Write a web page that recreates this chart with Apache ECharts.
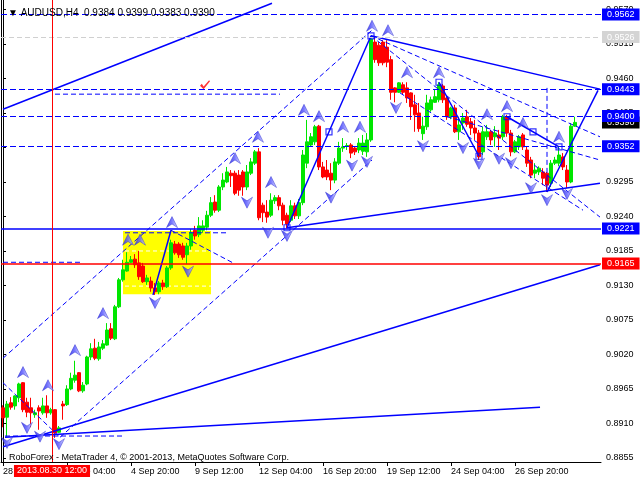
<!DOCTYPE html>
<html><head><meta charset="utf-8">
<script src="https://cdn.jsdelivr.net/npm/echarts@6/dist/echarts.min.js"></script>
<style>html,body{margin:0;padding:0;background:#fff}#c{width:640px;height:480px}</style>
</head><body><div id="c"></div>
<script>
// ---- data ----
// candles: [open, close, low, high]
const candles = [
[0.8935,0.8919,0.8904,0.8939],[0.8920,0.8941,0.8889,0.8946],[0.8943,0.8936,0.8932,0.8952],[0.8938,0.8954,0.8932,0.8955],
[0.8951,0.8973,0.8944,0.8975],[0.8975,0.8932,0.8928,0.8976],[0.8944,0.8928,0.8920,0.8951],[0.8935,0.8927,0.8904,0.8951],
[0.8924,0.8927,0.8919,0.8932],[0.8935,0.8930,0.8900,0.8939],[0.8927,0.8938,0.8924,0.8951],[0.8938,0.8927,0.8919,0.8955],
[0.8927,0.8932,0.8924,0.8935],[0.8932,0.8895,0.8887,0.8933],[0.8896,0.8903,0.8895,0.8906],[0.8941,0.8938,0.8916,0.8946],
[0.8940,0.8965,0.8938,0.8971],[0.8965,0.8982,0.8963,0.8991],[0.8979,0.8987,0.8975,0.9010],[0.8991,0.8962,0.8960,0.8992],
[0.8962,0.8971,0.8959,0.8976],[0.8973,0.9016,0.8971,0.9018],[0.9016,0.9029,0.9011,0.9038],[0.9030,0.9014,0.9011,0.9045],
[0.9013,0.9032,0.9010,0.9040],[0.9030,0.9037,0.9027,0.9043],[0.9035,0.9059,0.9034,0.9070],[0.9061,0.9046,0.9043,0.9070],
[0.9045,0.9096,0.9043,0.9099],[0.9096,0.9139,0.9094,0.9142],[0.9139,0.9155,0.9136,0.9171],[0.9153,0.9167,0.9152,0.9183],
[0.9167,0.9171,0.9166,0.9177],[0.9172,0.9163,0.9158,0.9180],[0.9166,0.9144,0.9139,0.9185],[0.9161,0.9136,0.9134,0.9166],
[0.9136,0.9142,0.9131,0.9147],[0.9137,0.9126,0.9120,0.9144],[0.9126,0.9120,0.9115,0.9134],[0.9120,0.9134,0.9116,0.9137],
[0.9134,0.9128,0.9123,0.9139],[0.9128,0.9158,0.9126,0.9161],[0.9158,0.9198,0.9155,0.9203],[0.9196,0.9182,0.9179,0.9201],
[0.9196,0.9179,0.9174,0.9199],[0.9193,0.9175,0.9171,0.9198],[0.9179,0.9193,0.9164,0.9198],[0.9193,0.9214,0.9187,0.9220],
[0.9218,0.9209,0.9203,0.9225],[0.9211,0.9225,0.9207,0.9239],[0.9218,0.9225,0.9214,0.9234],[0.9223,0.9242,0.9218,0.9249],
[0.9242,0.9262,0.9239,0.9271],[0.9263,0.9250,0.9246,0.9274],[0.9250,0.9287,0.9247,0.9290],[0.9287,0.9298,0.9282,0.9309],
[0.9295,0.9311,0.9293,0.9319],[0.9309,0.9305,0.9287,0.9314],[0.9309,0.9277,0.9274,0.9313],[0.9306,0.9282,0.9273,0.9314],
[0.9311,0.9287,0.9273,0.9314],[0.9287,0.9311,0.9282,0.9322],[0.9309,0.9327,0.9306,0.9333],[0.9325,0.9343,0.9322,0.9346],
[0.9343,0.9238,0.9234,0.9349],[0.9258,0.9246,0.9231,0.9262],[0.9247,0.9239,0.9230,0.9266],[0.9242,0.9266,0.9239,0.9277],
[0.9265,0.9270,0.9260,0.9274],[0.9270,0.9257,0.9250,0.9274],[0.9258,0.9234,0.9226,0.9262],[0.9242,0.9228,0.9221,0.9246],
[0.9234,0.9257,0.9231,0.9266],[0.9257,0.9241,0.9236,0.9262],[0.9241,0.9262,0.9236,0.9268],[0.9262,0.9338,0.9258,0.9346],
[0.9325,0.9359,0.9317,0.9394],[0.9354,0.9367,0.9351,0.9373],[0.9359,0.9383,0.9354,0.9386],[0.9384,0.9319,0.9314,0.9386],
[0.9319,0.9303,0.9301,0.9327],[0.9314,0.9303,0.9298,0.9330],[0.9309,0.9298,0.9282,0.9325],[0.9298,0.9327,0.9293,0.9333],
[0.9325,0.9349,0.9322,0.9359],[0.9349,0.9351,0.9343,0.9365],[0.9352,0.9353,0.9346,0.9357],[0.9354,0.9341,0.9333,0.9357],
[0.9349,0.9343,0.9338,0.9352],[0.9346,0.9357,0.9341,0.9365],[0.9344,0.9357,0.9338,0.9370],[0.9343,0.9362,0.9335,0.9373],
[0.9362,0.9523,0.9359,0.9528],[0.9518,0.9490,0.9485,0.9525],[0.9513,0.9485,0.9480,0.9518],[0.9518,0.9485,0.9481,0.9521],
[0.9510,0.9486,0.9478,0.9521],[0.9490,0.9438,0.9426,0.9496],[0.9445,0.9438,0.9422,0.9446],[0.9438,0.9453,0.9437,0.9454],
[0.9450,0.9438,0.9434,0.9454],[0.9445,0.9429,0.9421,0.9454],[0.9437,0.9415,0.9394,0.9438],[0.9418,0.9402,0.9375,0.9434],
[0.9405,0.9380,0.9375,0.9421],[0.9372,0.9384,0.9362,0.9399],[0.9383,0.9421,0.9378,0.9434],[0.9410,0.9426,0.9407,0.9431],
[0.9422,0.9431,0.9421,0.9442],[0.9426,0.9450,0.9422,0.9454],[0.9448,0.9426,0.9421,0.9451],[0.9429,0.9399,0.9394,0.9431],
[0.9399,0.9413,0.9395,0.9415],[0.9413,0.9375,0.9373,0.9418],[0.9375,0.9386,0.9362,0.9399],[0.9389,0.9397,0.9378,0.9405],
[0.9399,0.9387,0.9383,0.9410],[0.9391,0.9381,0.9370,0.9397],[0.9381,0.9373,0.9362,0.9394],[0.9373,0.9335,0.9330,0.9378],
[0.9343,0.9375,0.9338,0.9383],[0.9367,0.9375,0.9362,0.9386],[0.9375,0.9362,0.9354,0.9378],[0.9367,0.9373,0.9351,0.9384],
[0.9370,0.9365,0.9346,0.9378],[0.9367,0.9399,0.9362,0.9402],[0.9399,0.9373,0.9367,0.9402],[0.9373,0.9343,0.9336,0.9378],
[0.9343,0.9359,0.9341,0.9362],[0.9351,0.9367,0.9346,0.9370],[0.9370,0.9351,0.9346,0.9373],[0.9346,0.9325,0.9319,0.9351],
[0.9330,0.9306,0.9301,0.9335],[0.9309,0.9314,0.9301,0.9325],[0.9311,0.9317,0.9306,0.9320],[0.9311,0.9301,0.9290,0.9317],
[0.9309,0.9290,0.9279,0.9311],[0.9293,0.9325,0.9287,0.9330],[0.9325,0.9330,0.9322,0.9335],[0.9325,0.9338,0.9320,0.9351],
[0.9335,0.9319,0.9314,0.9341],[0.9314,0.9295,0.9285,0.9322],[0.9295,0.9384,0.9293,0.9389],[0.9384,0.9390,0.9383,0.9399]
];
const slotCount = 150;
const xTickLabels = ['28 Aug 2013','2 Sep 04:00','4 Sep 20:00','9 Sep 12:00','12 Sep 04:00','16 Sep 20:00','19 Sep 12:00','24 Sep 04:00','26 Sep 20:00'];
const yTickLabels = ['0.8855','0.8910','0.8965','0.9020','0.9075','0.9130','0.9185','0.9240','0.9295','0.9350','0.9405','0.9460','0.9515','0.9570'];
const cursorIndex = 12.25;
const cursorLabel = '2013.08.30 12:00';
const symbolName = 'AUDUSD,H4';
const bluePriceLevels = [0.9562, 0.9443, 0.9400, 0.9352];
const grayPriceLevels = [0.9526];
const supportLevel = [0.9221];
const redLevel = [0.9165];
const bidPrice = [0.9390];
const upFractals = [[5,0.8992],[11.25,0.8971],[18,0.9027],[25,0.9086],[31.25,0.9203],[34.25,0.9203],[42.25,0.9231],[58,0.9333],[63.75,0.9367],[67,0.9295],[75.25,0.9410],[79,0.9400],[85,0.9383],[89.25,0.9383],[92.25,0.9544],[96.25,0.9537],[101,0.9470],[109,0.9470],[121,0.9403],[126,0.9416],[130,0.9389],[139,0.9367]];
const downFractals = [[1,0.8879],[6,0.8903],[9.25,0.8889],[14,0.8877],[38,0.9102],[46.25,0.9152],[61,0.9262],[66.25,0.9214],[71,0.9209],[82,0.9270],[87.25,0.9321],[91,0.9327],[98.25,0.9413],[105,0.9352],[115,0.9349],[119,0.9324],[124,0.9332],[127,0.9325],[132,0.9285],[136,0.9266],[141,0.9276]];
const zigzagPoints = [[71,0.9222],[81.5,0.9375],[92,0.9528],[109,0.9454],[119,0.9336],[126,0.9399],[132.5,0.9375],[139,0.9351]];
const checkPoint = [[50.5,0.9450]];
const solidSegments = [
 [[0,0.9411],[67.25,0.9580]],
 [[0,0.8873],[149.25,0.9163]],
 [[0.5,0.8888],[134.25,0.8936]],
 [[71,0.9222],[149.25,0.9293]],
 [[92,0.9528],[149.25,0.9443]],
 [[71,0.9222],[92,0.9528]],
 [[109,0.9454],[119,0.9336]],
 [[126,0.9399],[139,0.9351]],
 [[136,0.9279],[148.75,0.9441]],
 [[37.5,0.9115],[42,0.9218]]
];
const dashedSegments = [
 [[0,0.9014],[92.25,0.9537]],
 [[14.25,0.8888],[92.25,0.9330]],
 [[92,0.9528],[149.25,0.9367]],
 [[92,0.9528],[149.25,0.9239]],
 [[99.25,0.9437],[145,0.9250]],
 [[111,0.9399],[149.25,0.9330]],
 [[42,0.9218],[57.5,0.9166]],
 [[13,0.9435],[69.25,0.9435]],
 [[0,0.9167],[20,0.9167]],
 [[0.5,0.8890],[30,0.8890]],
 [[30.5,0.9214],[56.25,0.9214]],
 [[136,0.9445],[136,0.9279]],
 [[0,0.8975],[14.25,0.8888]]
];
const boxCorners = [[30,0.9217],[52,0.9116]];
const boxInnerLevels = [0.9185, 0.9129];

// ---- chart ----
const FONT = '"Liberation Sans", Arial, sans-serif';
const yMin = 0.88486, yMax = 0.95851;
const cats = Array.from({length: slotCount}, (_, i) => String(i));
const last = candles[candles.length - 1];
const chart = echarts.init(document.getElementById('c'), null, {renderer: 'canvas'});
const BLUE = '#0000ff';

function segSeries(seg, style, z) {
  return {type: 'line', xAxisIndex: 1, yAxisIndex: 0, data: seg, symbol: 'none', silent: true,
    lineStyle: style, z: z, animation: false};
}
const series = [];
// yellow box (background)
series.push({type: 'line', xAxisIndex: 1, yAxisIndex: 0, data: [], symbol: 'none', z: 0, silent: true,
  markArea: {silent: true, itemStyle: {color: '#ffff00', opacity: 1},
    data: [[{xAxis: boxCorners[0][0], yAxis: boxCorners[0][1]}, {xAxis: boxCorners[1][0], yAxis: boxCorners[1][1]}]]}});
boxInnerLevels.forEach(v => series.push(segSeries([[boxCorners[0][0] + 0.5, v], [boxCorners[1][0], v]], {color: '#ffffff', width: 1, type: [4, 3]}, 1)));
// candles
series.push({type: 'candlestick', xAxisIndex: 0, yAxisIndex: 0, data: candles, barWidth: 3, z: 3,
  itemStyle: {color: '#00e600', color0: '#ff0000', borderColor: '#00e600', borderColor0: '#ff0000', borderWidth: 1},
  animation: false, silent: true});
solidSegments.forEach(s => series.push(segSeries(s, {color: BLUE, width: 1.5}, 4)));
dashedSegments.forEach(s => series.push(segSeries(s, {color: BLUE, width: 1, type: [5, 3]}, 4)));

// horizontal levels + price tags
const tag = (v, bg, fg) => ({yAxis: v, label: {show: true, position: 'end', distance: 1, formatter: v.toFixed(4),
  backgroundColor: bg, color: fg, fontSize: 9, fontFamily: FONT, padding: [1, 5, 1, 5], lineHeight: 10}});
const mlData = [];
grayPriceLevels.forEach(v => { const d = tag(v, '#d4d4d4', '#ffffff'); d.lineStyle = {color: '#d0d0d0', type: [5, 3], width: 1}; mlData.push(d); });
bidPrice.forEach(v => { const d = tag(v, '#000000', '#ffffff'); d.lineStyle = {color: 'rgba(0,0,0,0)', width: 0.1}; mlData.push(d); });
bluePriceLevels.forEach(v => { const d = tag(v, BLUE, '#ffffff'); d.lineStyle = {color: BLUE, type: [6, 3], width: 1}; mlData.push(d); });
supportLevel.forEach(v => { const d = tag(v, BLUE, '#ffffff'); d.lineStyle = {color: BLUE, type: 'solid', width: 1.5}; mlData.push(d); });
redLevel.forEach(v => { const d = tag(v, '#ff0000', '#ffffff'); d.lineStyle = {color: '#ff0000', type: 'solid', width: 1.5}; mlData.push(d); });
series.push({type: 'line', xAxisIndex: 1, yAxisIndex: 0, data: [[0, null]], symbol: 'none', z: 5, silent: true,
  markLine: {silent: true, symbol: 'none', animation: false, precision: 6, data: mlData.concat([
    {xAxis: cursorIndex, lineStyle: {color: '#ff0000', type: 'solid', width: 1},
     label: {show: true, position: 'start', distance: 3, formatter: cursorLabel, backgroundColor: '#ff0000', color: '#fff',
       fontSize: 9, fontFamily: FONT, padding: [1, 3, 1, 3], lineHeight: 10}}
  ])}});

// fractal arrows
const upPath = 'path://M6,0 L12,12 L6,8 L0,12 Z';
const downPath = 'path://M0,0 L6,4 L12,0 L6,12 Z';
const arrowFill = new echarts.graphic.LinearGradient(0, 0, 1, 0, [{offset: 0, color: '#1a1ae6'}, {offset: 0.5, color: '#5a5aff'}, {offset: 1, color: '#d6d6ff'}]);
series.push({type: 'scatter', xAxisIndex: 1, yAxisIndex: 0, data: upFractals, symbol: upPath, symbolSize: [11, 11], z: 6,
  itemStyle: {color: arrowFill, borderColor: '#3030d0', borderWidth: 0.6}, silent: true, animation: false});
series.push({type: 'scatter', xAxisIndex: 1, yAxisIndex: 0, data: downFractals, symbol: downPath, symbolSize: [11, 11], z: 6,
  itemStyle: {color: arrowFill, borderColor: '#3030d0', borderWidth: 0.6}, silent: true, animation: false});
series.push({type: 'scatter', xAxisIndex: 1, yAxisIndex: 0, data: zigzagPoints, symbol: 'rect', symbolSize: 6, z: 7,
  itemStyle: {color: 'rgba(255,255,255,0)', borderColor: BLUE, borderWidth: 1.2}, silent: true, animation: false});
series.push({type: 'scatter', xAxisIndex: 1, yAxisIndex: 0, data: checkPoint, symbol: 'path://M0,6 L2,4 L4,7 L10,0 L11,1 L4,10 Z', symbolSize: [10, 9], z: 7,
  itemStyle: {color: '#ff0000'}, silent: true, animation: false});

const option = {
  animation: false,
  backgroundColor: '#ffffff',
  textStyle: {fontFamily: FONT},
  title: [
    {text: '▼ ' + symbolName + '  ' + [last[0], last[3], last[2], last[1]].map(v => v.toFixed(4)).join(' '), left: 3, top: 3,
     textStyle: {fontSize: 10, fontWeight: 'normal', color: '#000', fontFamily: FONT}},
    {text: 'RoboForex - MetaTrader 4, © 2001-2013, MetaQuotes Software Corp.', left: 4, top: 448,
     textStyle: {fontSize: 9, fontWeight: 'normal', color: '#000', fontFamily: FONT}}
  ],
  grid: {left: 1, right: 39, top: 0, bottom: 18, containLabel: false},
  xAxis: [
    {type: 'category', data: cats, boundaryGap: true, position: 'bottom',
     axisLine: {show: true, lineStyle: {color: '#000', width: 1}},
     axisTick: {show: true, alignWithLabel: true, length: 4, lineStyle: {color: '#000'},
       interval: (i) => i % 16 === 0 && i / 16 < xTickLabels.length},
     axisLabel: {show: true, interval: 0, align: 'left', margin: 5, color: '#000', fontSize: 9, fontFamily: FONT,
       formatter: (v, i) => (i % 16 === 0 && i / 16 < xTickLabels.length) ? xTickLabels[i / 16] : ''},
     splitLine: {show: false}},
    {type: 'value', min: -0.5, max: slotCount - 0.5, show: false}
  ],
  yAxis: [
    {type: 'value', position: 'right', min: yMin, max: yMax, scale: true,
     axisLine: {show: true, lineStyle: {color: '#000', width: 1}},
     axisTick: {show: true, length: 3, lineStyle: {color: '#000'}, customValues: yTickLabels.map(Number)},
     axisLabel: {show: true, margin: 5, color: '#000', fontSize: 9, fontFamily: FONT, customValues: yTickLabels.map(Number),
       formatter: (v) => Number(v).toFixed(4)},
     splitLine: {show: false}},
    {type: 'value', position: 'left', min: yMin, max: yMax, scale: true,
     axisLine: {show: true, lineStyle: {color: '#000', width: 1}}, axisTick: {show: false}, axisLabel: {show: false}, splitLine: {show: false}}
  ],
  series: series
};
chart.setOption(option);
</script></body></html>
